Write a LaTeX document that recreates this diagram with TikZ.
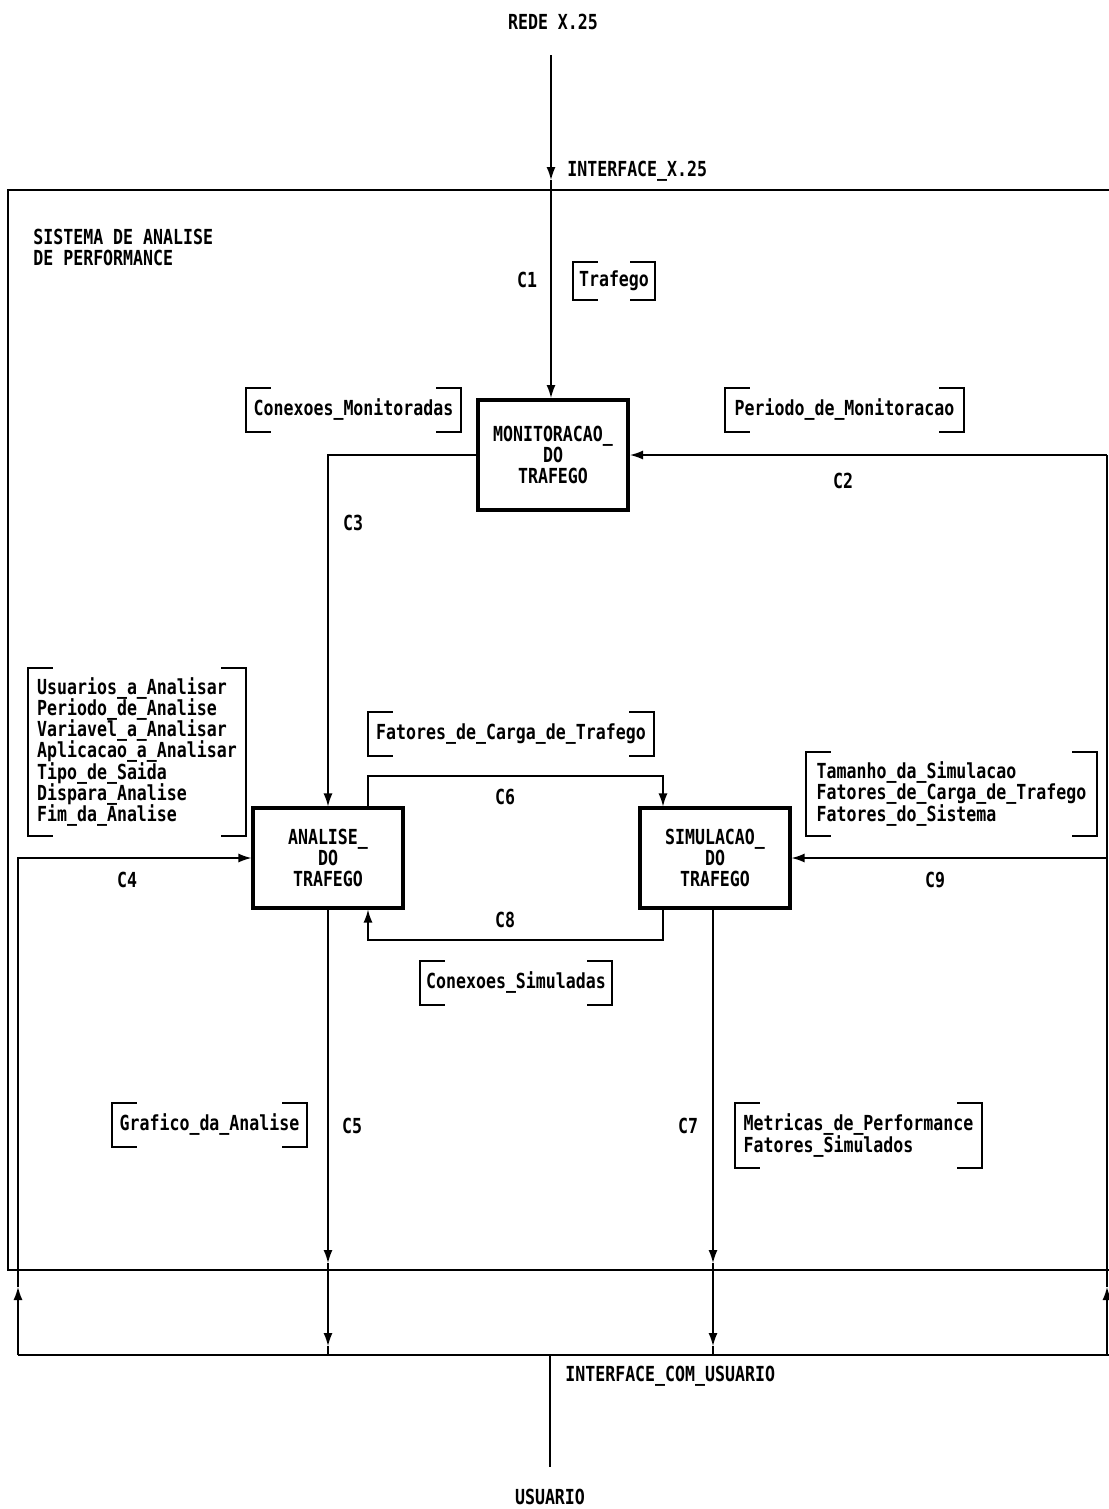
\documentclass[tikz,border=0pt]{standalone}
\usepackage{fontspec}
\newfontfamily\dfdfont{DejaVu Sans Mono}[FakeStretch=0.8]
\usetikzlibrary{arrows.meta}

% tight line spacing, as on the printout
\newcommand{\dfdsize}{\fontsize{11.8}{12}\selectfont\lineskiplimit=-10pt\relax}

% brackets round a data store node
\newcommand{\bracketpair}[1]{%
  \draw[bracket] ([xshift=0.5cm]#1.north west) -- (#1.north west) -- (#1.south west) -- ([xshift=0.5cm]#1.south west);
  \draw[bracket] ([xshift=-0.5cm]#1.north east) -- (#1.north east) -- (#1.south east) -- ([xshift=-0.5cm]#1.south east);}

\begin{document}
\begin{tikzpicture}[x=0.02cm,y=-0.02cm,
  dfd/.style={font=\dfdfont\bfseries\dfdsize,inner sep=0pt},
  process/.style={dfd,draw,line width=1.8pt,align=center,minimum width=3cm,minimum height=2cm},
  store/.style={dfd,align=left},
  bracket/.style={line width=1.2pt},
  flow/.style={line width=0.8pt,-{Latex[length=2.6mm,width=1.8mm]}},
  wire/.style={line width=0.8pt},
  boundary/.style={line width=1.5pt}]
  \useasboundingbox (0,0) rectangle (1109,1509);
  % system boundary
  \draw[boundary] (1109,190) -- (8,190) -- (8,1270) -- (1109,1270);
  \node[dfd,anchor=west,align=left] (sys) at (33,247) {SISTEMA DE ANALISE\\DE PERFORMANCE};
  % processes
  \node[process,line width=2.3pt,minimum height=2.2cm] (mon) at (553,455) {MONITORACAO\_\\DO\\TRAFEGO};
  \node[process] (ana) at (328,858) {ANALISE\_\\DO\\TRAFEGO};
  \node[process] (sim) at (715,858) {SIMULACAO\_\\DO\\TRAFEGO};
  % terminators and interfaces
  \node[dfd] (rede) at (553,22) {REDE X.25};
  \node[dfd,anchor=west] (ifx) at (567,171) {INTERFACE\_X.25};
  \node[dfd] (usu) at (550,1497) {USUARIO};
  \node[dfd,anchor=west] (ifu) at (565,1376) {INTERFACE\_COM\_USUARIO};
  % data stores
  \node[store,minimum width=1.64cm,minimum height=0.76cm] (traf) at (614,281) {Trafego};
  \node[store,minimum width=4.3cm,minimum height=0.88cm] (conmon) at (353.5,410) {Conexoes\_Monitoradas};
  \node[store,minimum width=4.78cm,minimum height=0.88cm] (permon) at (844.5,410) {Periodo\_de\_Monitoracao};
  \node[store,minimum width=4.36cm,minimum height=3.36cm] (anapar) at (137,752)
    {Usuarios\_a\_Analisar\\Periodo\_de\_Analise\\Variavel\_a\_Analisar\\Aplicacao\_a\_Analisar\\Tipo\_de\_Saida\\Dispara\_Analise\\Fim\_da\_Analise};
  \node[store,minimum width=5.72cm,minimum height=0.88cm] (carga) at (511,734) {Fatores\_de\_Carga\_de\_Trafego};
  \node[store,minimum width=5.82cm,minimum height=1.68cm] (simpar) at (951.5,794)
    {Tamanho\_da\_Simulacao\\Fatores\_de\_Carga\_de\_Trafego\\Fatores\_do\_Sistema};
  \node[store,minimum width=3.84cm,minimum height=0.88cm] (consim) at (516,983) {Conexoes\_Simuladas};
  \node[store,minimum width=3.9cm,minimum height=0.88cm] (graf) at (209.5,1125) {Grafico\_da\_Analise};
  \node[store,minimum width=4.94cm,minimum height=1.3cm] (metr) at (858.5,1135.5) {Metricas\_de\_Performance\\Fatores\_Simulados};
  \foreach \s in {traf,conmon,permon,anapar,carga,simpar,consim,graf,metr}{
    \bracketpair{\s}
  }
  % connector labels
  \foreach \n/\x/\y in {1/527/280,2/843/481,3/353/523,4/127/880,5/352/1126,6/505/797,7/688/1126,8/505/920,9/935/880}{
    \node[dfd] (c\n) at (\x,\y) {C\n};
  }
  % corner points
  \coordinate (x25top) at (551,55);
  \coordinate (x25in) at (551,180);
  \coordinate (c6l) at (368,776);
  \coordinate (c6r) at (663,776);
  \coordinate (c8l) at (368,940);
  \coordinate (c8r) at (663,940);
  \coordinate (busl) at (18,1355);
  \coordinate (busr) at (1107,1355);
  \coordinate (lup) at (18,1287);
  \coordinate (rup) at (1107,1287);
  \coordinate (c4c) at (18,858);
  \coordinate (c9c) at (1107,858);
  \coordinate (c2c) at (1107,455);
  \coordinate (c5a) at (328,1263);
  \coordinate (c5b) at (328,1346);
  \coordinate (c7a) at (713,1263);
  \coordinate (c7b) at (713,1346);
  \coordinate (ifutop) at (550,1355);
  \coordinate (ifubot) at (550,1467);
  % flows
  \draw[flow] (x25top) -- (x25in);
  \draw[flow] (x25in) -- (mon.north -| x25in);
  \draw[flow] (c2c) -- (mon.east);
  \draw[flow] (mon.west) -| (ana.north);
  \draw[flow] (c6l |- ana.north) -- (c6l) -- (c6r) -- (c6r |- sim.north);
  \draw[flow] (c8r |- sim.south) -- (c8r) -- (c8l) -- (c8l |- ana.south);
  \draw[flow] (busl) -- (lup);
  \draw[flow] (lup) -- (c4c) -- (ana.west);
  \draw[flow] (busr) -- (rup);
  \draw[wire] (rup) -- (c2c);
  \draw[flow] (c9c) -- (sim.east);
  \draw[flow] (ana.south) -- (c5a);
  \draw[flow] (c5a) -- (c5b);
  \draw[wire] (c5b) -- (c5b |- busl);
  \draw[flow] (c7a |- sim.south) -- (c7a);
  \draw[flow] (c7a) -- (c7b);
  \draw[wire] (c7b) -- (c7b |- busl);
  % user interface bus
  \draw[boundary] (busl) -- (1109,1355);
  \draw[wire] (ifutop) -- (ifubot);
\end{tikzpicture}
\end{document}
